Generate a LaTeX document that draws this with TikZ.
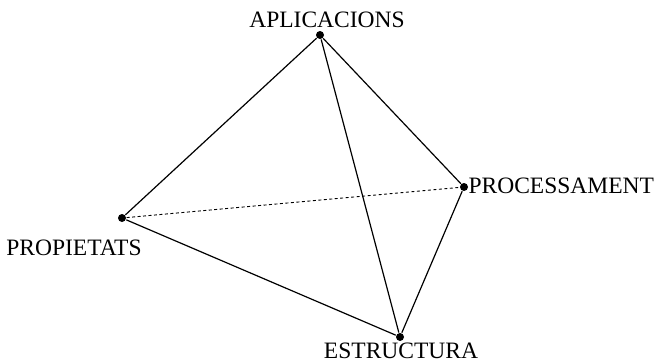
\documentclass[tikz,border=0pt]{standalone}
\usepackage{fontspec}
\setmainfont{Liberation Serif}

\begin{document}
\begin{tikzpicture}[x=1pt, y=-1pt, line width=1.2pt,
        vertex/.style={circle, fill=black, inner sep=0pt, minimum size=8pt},
        etiqueta/.style={inner sep=0pt, font=\fontsize{23.5}{25}\selectfont}]
            \useasboundingbox (0, 0) rectangle (659, 362);

            \node[vertex] (apl) at (320, 35) {};
            \node[vertex] (pro) at (464, 187) {};
            \node[vertex] (prop) at (122, 218) {};
            \node[vertex] (est) at (400, 337) {};

            \node[etiqueta, anchor=base] (aplt) at (327, 27) {APLICACIONS};
            \node[etiqueta, anchor=base west] (prot) at (468, 193) {PROCESSAMENT};
            \node[etiqueta, anchor=base] (propt) at (74, 255) {PROPIETATS};
            \node[etiqueta, anchor=base] (estt) at (401, 358) {ESTRUCTURA};

            \draw (apl) -- (prop);
            \draw (apl) -- (pro);
            \draw (apl) -- (est);
            \draw (prop) -- (est);
            \draw (pro) -- (est);
            \draw[dashed, line width=0.9pt, dash pattern=on 3pt off 2.5pt] (prop) -- (pro);

        \end{tikzpicture}
\end{document}
